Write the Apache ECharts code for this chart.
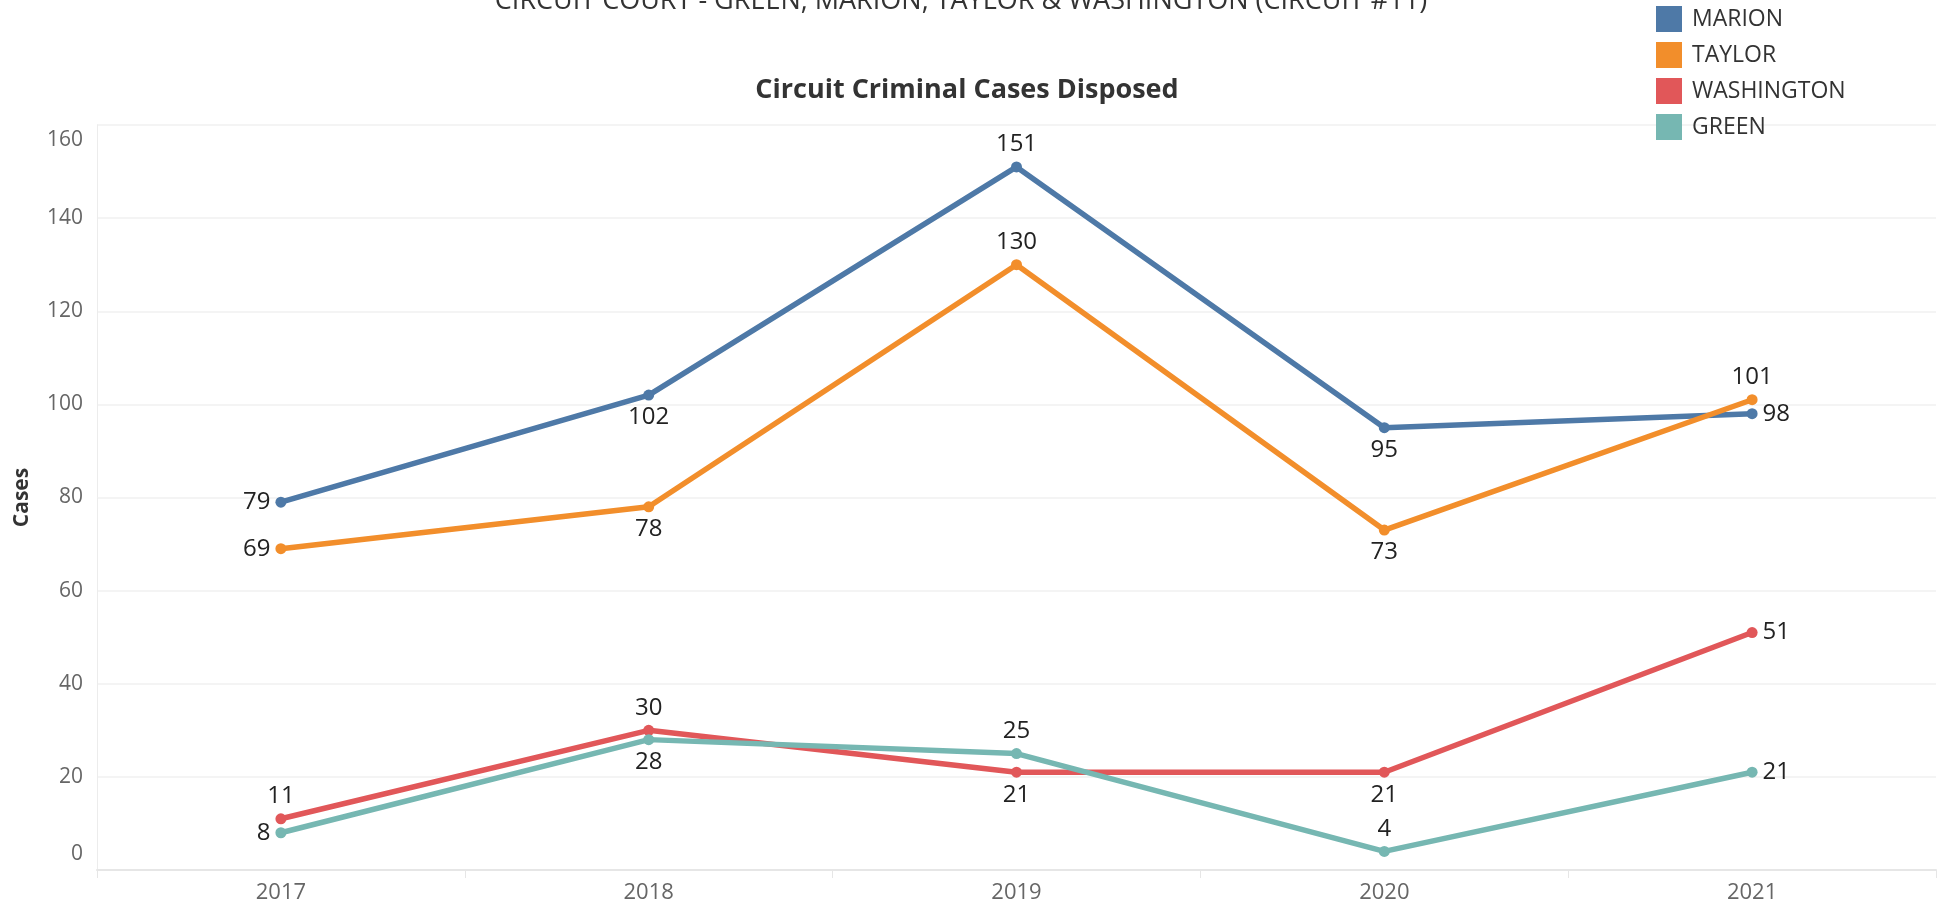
<!DOCTYPE html>
<html>
<head>
<meta charset="utf-8">
<script src="https://cdn.jsdelivr.net/npm/echarts@6/dist/echarts.min.js"></script>
<style>
html,body{margin:0;padding:0;background:#fff;}
#chart{width:1942px;height:907px;}
</style>
</head>
<body>
<div id="chart"></div>
<script>
// data
var years = ['2017', '2018', '2019', '2020', '2021'];
var marion = [79, 102, 151, 95, 98];
var taylor = [69, 78, 130, 73, 101];
var washington = [11, 30, 21, 21, 51];
var green = [8, 28, 25, 4, 21];
// where each value label sits
var marionPos = ['left', 'bottom', 'top', 'bottom', 'right'];
var taylorPos = ['left', 'bottom', 'top', 'bottom', 'top'];
var washingtonPos = ['top', 'top', 'bottom', 'bottom', 'right'];
var greenPos = ['left', 'bottom', 'top', 'top', 'right'];

var colors = ['#4e79a7', '#f28e2b', '#e15759', '#76b7b2'];
var font = '"Open Sans", sans-serif';

function mkData(vals, pos) {
    return vals.map(function (v, i) {
        return { value: v, label: { position: pos[i] } };
    });
}

function mkSeries(name, vals, pos, color) {
    return {
        name: name,
        type: 'line',
        data: mkData(vals, pos),
        symbol: 'circle',
        symbolSize: 11,
        lineStyle: { width: 5.5, color: color },
        itemStyle: { color: color },
        label: {
            show: true,
            distance: 5,
            color: '#222',
            fontSize: 24,
            fontFamily: font
        },
        emphasis: { disabled: true },
        animation: false
    };
}

var chart = echarts.init(document.getElementById('chart'));
var option = {
    color: colors,
    title: [{
        text: 'CIRCUIT COURT - GREEN, MARION, TAYLOR & WASHINGTON (CIRCUIT #11)',
        left: 956,
        textAlign: 'center',
        top: -17,
        textStyle: { fontSize: 27, fontWeight: 'normal', color: '#333', fontFamily: font }
    }, {
        text: 'Circuit Criminal Cases Disposed',
        left: 962,
        textAlign: 'center',
        top: 72,
        textStyle: { fontSize: 27, fontWeight: 'bold', color: '#333', fontFamily: font }
    }],
    legend: {
        orient: 'vertical',
        left: 1651,
        top: 1,
        itemWidth: 26,
        itemHeight: 26,
        itemGap: 10,
        icon: 'rect',
        textStyle: { fontSize: 23, color: '#333', fontFamily: font, padding: [0, 0, 0, 5] },
        data: ['MARION', 'TAYLOR', 'WASHINGTON', 'GREEN']
    },
    grid: { left: 97, right: 6, top: 125, bottom: 37, outerBoundsMode: 'none' },
    xAxis: {
        type: 'category',
        data: years,
        boundaryGap: true,
        axisLine: { lineStyle: { color: '#e6e6e6', width: 2 } },
        axisTick: { show: true, length: 8, lineStyle: { color: '#e6e6e6' } },
        axisLabel: { fontSize: 22, color: '#666', margin: 12, fontFamily: font }
    },
    yAxis: {
        type: 'value',
        min: 0,
        max: 160,
        interval: 20,
        name: 'Cases',
        nameLocation: 'middle',
        nameGap: 64,
        nameTextStyle: { fontSize: 21, fontWeight: 'bold', color: '#333', fontFamily: font },
        axisLine: { show: true, lineStyle: { color: '#ececec' } },
        axisTick: { show: false },
        splitLine: { lineStyle: { color: '#f0f0f0', width: 1.5 } },
        axisLabel: {
            fontSize: 21, lineHeight: 31, color: '#666', margin: 14, fontFamily: font,
            verticalAlignMaxLabel: 'top',
            verticalAlignMinLabel: 'bottom'
        }
    },
    series: [
        mkSeries('MARION', marion, marionPos, colors[0]),
        mkSeries('TAYLOR', taylor, taylorPos, colors[1]),
        mkSeries('WASHINGTON', washington, washingtonPos, colors[2]),
        mkSeries('GREEN', green, greenPos, colors[3])
    ]
};
chart.setOption(option);
</script>
</body>
</html>
